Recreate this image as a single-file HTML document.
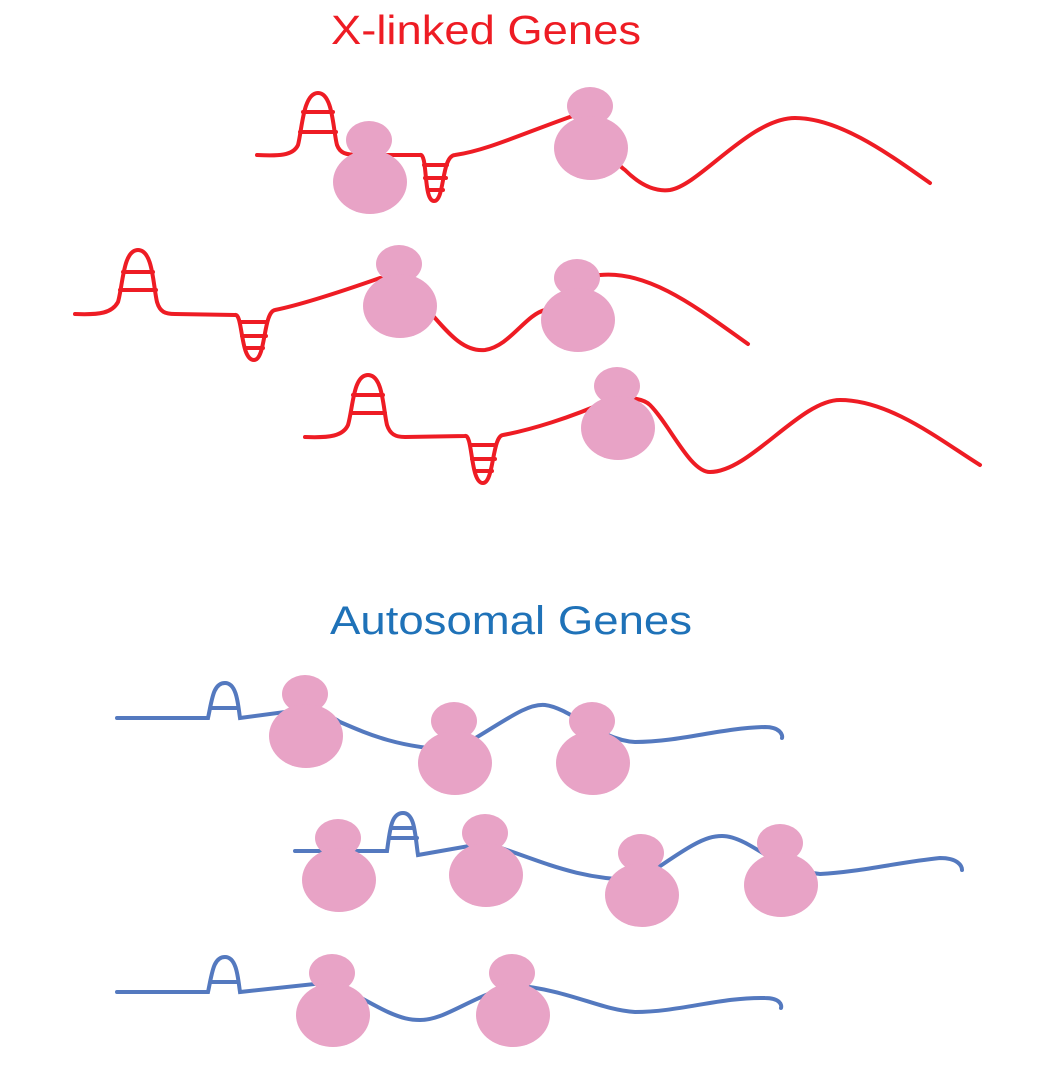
<!DOCTYPE html>
<html><head><meta charset="utf-8"><style>
html,body{margin:0;padding:0;background:#fff;}
svg{display:block}
</style></head><body>
<svg width="1059" height="1065" viewBox="0 0 1059 1065" xmlns="http://www.w3.org/2000/svg">
<defs>
<g id="rib" fill="#e8a3c6">
<ellipse cx="-1" cy="-42" rx="23" ry="19"/>
<ellipse cx="0" cy="0" rx="37" ry="32"/>
</g>
</defs>
<text x="486" y="44" font-family="Liberation Sans, sans-serif" font-size="41" fill="#ee1c24" text-anchor="middle" textLength="310" lengthAdjust="spacingAndGlyphs">X-linked Genes</text>
<text x="511" y="634" font-family="Liberation Sans, sans-serif" font-size="40" fill="#1f72b8" text-anchor="middle" textLength="362" lengthAdjust="spacingAndGlyphs">Autosomal Genes</text>

<g fill="none" stroke="#ee1c24" stroke-width="4" stroke-linecap="round">
<!-- row1 -->
<path d="M257,155 C278,156 293,156 298,145 C302,130 303,93 318,93 C333,93 333,130 337,145 C340,153 345,155 360,155 L420,155 C428,153 423,201 434,201 C445,201 441,156 455,155 C490,150 530,130 590,110 C600,130 610,160 625,170 C640,185 655,192 670,190 C700,185 750,118 795,118 C840,118 890,155 930,183"/>
<path d="M303,112 H333 M300,132 H336 M424,165 H447 M425,178 H446 M428,190 H443"/>
<!-- row2 -->
<path d="M75,314 C100,315 112,313 118,302 C123,285 123,250 138,250 C153,250 153,285 157,302 C160,312 165,314 175,314 L235,315 C243,313 240,360 254,360 C266,360 263,312 275,310 C300,305 340,292 380,278 C400,280 420,300 435,318 C450,335 465,352 485,350 C510,346 525,315 545,310 C570,290 585,277 600,275 C650,270 700,310 748,344"/>
<path d="M123,272 H153 M120,290 H156 M240,322 H267 M242,336 H266 M245,348 H263"/>
<!-- row3 -->
<path d="M305,437 C330,438 343,436 348,425 C353,408 353,375 368,375 C383,375 383,408 387,425 C390,434 395,437 405,437 L465,436 C473,434 470,483 483,483 C494,483 492,436 503,435 C530,430 570,418 610,400 C630,395 645,400 650,405 C670,425 690,472 710,472 C750,472 800,400 840,400 C890,400 940,440 980,465"/>
<path d="M353,395 H383 M351,413 H385 M470,445 H496 M472,459 H495 M475,471 H492"/>
</g>

<g fill="none" stroke="#5479bf" stroke-width="4" stroke-linecap="round">
<!-- auto row1 -->
<path d="M117,718 L208,718 C212,700 213,683 225,683 C237,683 238,705 240,718 L300,710 C320,712 335,718 340,722 C370,735 400,748 455,750 C500,725 525,703 545,705 C570,708 600,740 635,742 C680,742 720,728 765,727 C780,727 783,735 782,738"/>
<path d="M211,708 H238"/>
<!-- auto row2 -->
<path d="M295,851 L387,851 C390,830 391,813 403,813 C415,813 415,835 418,855 L486,843 C540,860 575,880 640,880 C690,845 705,836 722,836 C740,836 760,852 790,870 L820,874 C860,872 900,862 940,858 C958,858 962,866 962,870"/>
<path d="M389,838 H417 M392,828 H414"/>
<!-- auto row3 -->
<path d="M117,992 L208,992 C212,974 213,957 225,957 C237,957 238,979 240,992 L333,982 C385,1012 400,1020 420,1020 C445,1020 465,1000 513,985 C570,990 600,1010 635,1012 C680,1012 720,997 765,998 C780,998 782,1005 781,1008"/>
<path d="M211,982 H238"/>
</g>

<use href="#rib" x="370" y="182"/>
<use href="#rib" x="591" y="148"/>
<use href="#rib" x="400" y="306"/>
<use href="#rib" x="578" y="320"/>
<use href="#rib" x="618" y="428"/>

<use href="#rib" x="306" y="736"/>
<use href="#rib" x="455" y="763"/>
<use href="#rib" x="593" y="763"/>
<use href="#rib" x="339" y="880"/>
<use href="#rib" x="486" y="875"/>
<use href="#rib" x="642" y="895"/>
<use href="#rib" x="781" y="885"/>
<use href="#rib" x="333" y="1015"/>
<use href="#rib" x="513" y="1015"/>
</svg>
</body></html>
